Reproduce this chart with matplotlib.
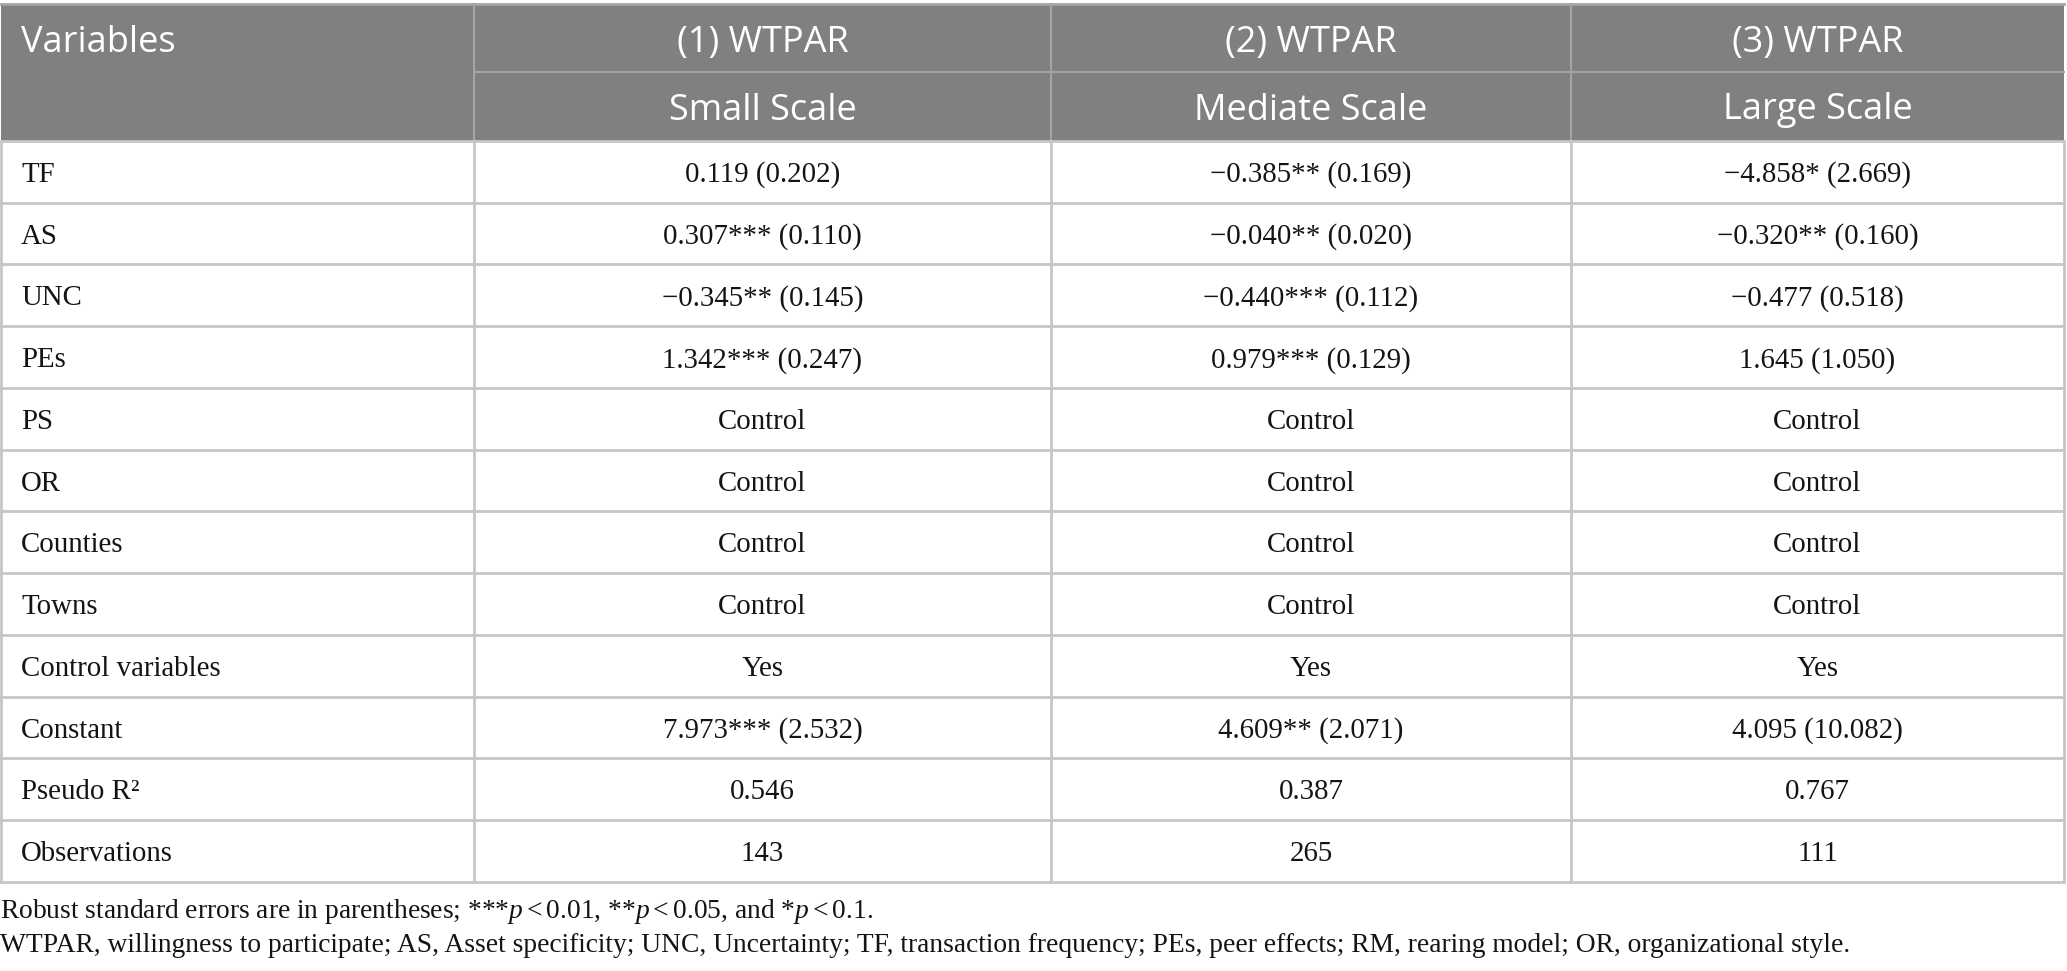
import matplotlib
matplotlib.use("Agg")
from matplotlib import pyplot as plt

plt.rcParams["mathtext.fontset"] = "custom"
plt.rcParams["mathtext.rm"] = "Liberation Serif"
plt.rcParams["mathtext.it"] = "Liberation Serif:italic"

# table content
models = ["(1) WTPAR", "(2) WTPAR", "(3) WTPAR"]
scales = ["Small Scale", "Mediate Scale", "Large Scale"]
variables = ["TF", "AS", "UNC", "PEs", "PS", "OR", "Counties", "Towns",
             "Control variables", "Constant", "Pseudo R\u00b2", "Observations"]
small_scale = ["0.119 (0.202)", "0.307*** (0.110)", "\u22120.345** (0.145)", "1.342*** (0.247)",
               "Control", "Control", "Control", "Control", "Yes", "7.973*** (2.532)", "0.546", "143"]
mediate_scale = ["\u22120.385** (0.169)", "\u22120.040** (0.020)", "\u22120.440*** (0.112)",
                 "0.979*** (0.129)", "Control", "Control", "Control", "Control", "Yes",
                 "4.609** (2.071)", "0.387", "265"]
large_scale = ["\u22124.858* (2.669)", "\u22120.320** (0.160)", "\u22120.477 (0.518)", "1.645 (1.050)",
               "Control", "Control", "Control", "Control", "Yes", "4.095 (10.082)", "0.767", "111"]
notes = [
    "Robust standard errors are in parentheses; ***$p<0.01$, **$p<0.05$, and *$p<0.1$.",
    "WTPAR, willingness to participate; AS, Asset specificity; UNC, Uncertainty; TF, transaction "
    "frequency; PEs, peer effects; RM, rearing model; OR, organizational style.",
]

W, H = 2067, 971
col_edges = [1, 474, 1051, 1571, 2064]
header_top, header_mid, header_bottom = 4.5, 72, 141
row_h = 61.75
header_color = "#7f807f"
line_color = "#c6c6c6"
header_line = "#a4a4a4"

fig = plt.figure(figsize=(W / 100, H / 100), dpi=100)
ax = fig.add_axes([0, 0, 1, 1])
ax.set_xlim(0, W)
ax.set_ylim(H, 0)
ax.axis("off")

# header block
ax.add_patch(plt.Rectangle((col_edges[0], header_top), col_edges[-1] - col_edges[0],
                           header_bottom - header_top, color=header_color, lw=0))
ax.plot([col_edges[0], col_edges[-1]], [header_top, header_top], color=header_line, lw=2)
ax.plot([col_edges[1], col_edges[-1]], [header_mid, header_mid], color=header_line, lw=1.5)
for x in col_edges[1:-1]:
    ax.plot([x, x], [header_top, header_bottom], color=header_line, lw=1.5)

hfont = dict(family="Open Sans", fontsize=26, color="white", va="center")
ax.text(21, (header_top + header_mid) / 2 + 5, "Variables", ha="left", **hfont)
for i in range(3):
    cx = (col_edges[i + 1] + col_edges[i + 2]) / 2
    ax.text(cx, (header_top + header_mid) / 2 + 5, models[i], ha="center", **hfont)
    ax.text(cx, (header_mid + header_bottom) / 2 + 4, scales[i], ha="center", **hfont)

# body
n_rows = len(variables)
body_bottom = header_bottom + n_rows * row_h
for r in range(n_rows + 1):
    y = header_bottom + r * row_h
    ax.plot([col_edges[0], col_edges[-1]], [y, y], color=line_color, lw=2)
for x in col_edges:
    ax.plot([x, x], [header_bottom, body_bottom], color=line_color, lw=2)

bfont = dict(family="Liberation Serif", fontsize=20.8, color="#141414", va="center")
columns = [small_scale, mediate_scale, large_scale]
for r in range(n_rows):
    yc = header_bottom + (r + 0.5) * row_h + 3
    ax.text(21, yc, variables[r], ha="left", **bfont)
    for i, col in enumerate(columns):
        cx = (col_edges[i + 1] + col_edges[i + 2]) / 2
        ax.text(cx, yc, col[r], ha="center", **bfont)

# footnotes
for k, note in enumerate(notes):
    ax.text(0, body_bottom + 30 + k * 34, note, ha="left", family="Liberation Serif",
            fontsize=19.8, color="#141414", va="center")

fig.savefig("out.png", dpi=100)
